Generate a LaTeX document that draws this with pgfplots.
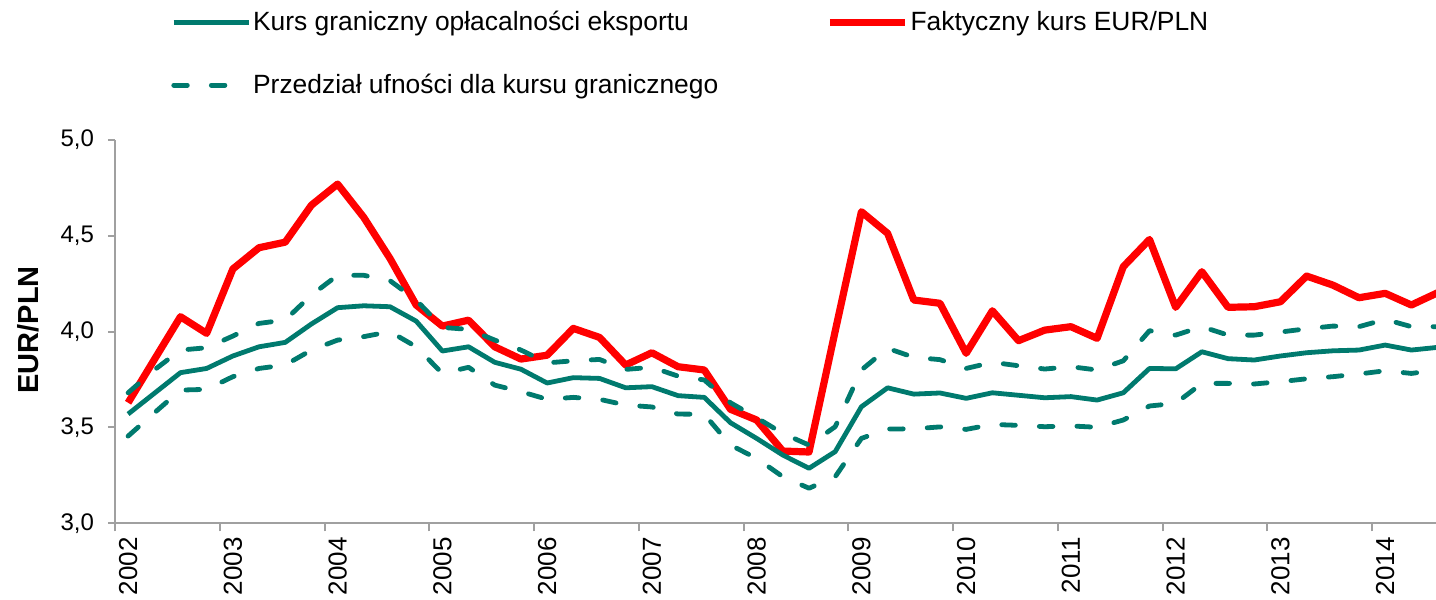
\documentclass[border=0pt]{standalone}
\usepackage{fontspec}
\setmainfont{Liberation Sans}
\usepackage{pgfplots}
\pgfplotsset{compat=1.18}
\usepackage{pgfplotstable}
\definecolor{kgreen}{RGB}{0,122,110}
\definecolor{kred}{RGB}{255,0,0}
\definecolor{axgray}{RGB}{160,160,160}

\pgfplotstableread{
i g r u l
0 3.570 3.629 3.681 3.455
1 3.678 3.854 3.800 3.576
2 3.786 4.078 3.904 3.695
3 3.808 3.991 3.916 3.699
4 3.873 4.327 3.977 3.765
5 3.921 4.438 4.043 3.808
6 3.944 4.467 4.061 3.826
7 4.040 4.660 4.191 3.904
8 4.125 4.770 4.294 3.956
9 4.135 4.596 4.294 3.974
10 4.130 4.382 4.266 4.000
11 4.055 4.139 4.165 3.921
12 3.899 4.029 4.022 3.782
13 3.921 4.060 4.012 3.814
14 3.840 3.921 3.956 3.721
15 3.804 3.857 3.904 3.687
16 3.732 3.877 3.837 3.647
17 3.760 4.017 3.848 3.657
18 3.756 3.970 3.855 3.647
19 3.707 3.826 3.803 3.617
20 3.713 3.890 3.814 3.607
21 3.666 3.817 3.768 3.570
22 3.657 3.800 3.748 3.569
23 3.525 3.595 3.629 3.408
24 3.443 3.539 3.551 3.339
25 3.356 3.377 3.469 3.243
26 3.287 3.372 3.408 3.183
27 3.374 4.003 3.504 3.243
28 3.608 4.626 3.800 3.443
29 3.707 4.513 3.913 3.492
30 3.674 4.165 3.866 3.493
31 3.680 4.148 3.854 3.503
32 3.652 3.887 3.808 3.490
33 3.681 4.109 3.840 3.516
34 3.668 3.953 3.822 3.511
35 3.655 4.008 3.805 3.504
36 3.661 4.026 3.817 3.508
37 3.643 3.965 3.800 3.501
38 3.681 4.339 3.848 3.539
39 3.808 4.481 4.005 3.612
40 3.806 4.127 3.982 3.626
41 3.895 4.313 4.026 3.730
42 3.859 4.127 3.982 3.730
43 3.852 4.130 3.982 3.727
44 3.873 4.156 3.998 3.739
45 3.890 4.290 4.015 3.754
46 3.900 4.243 4.029 3.765
47 3.904 4.177 4.026 3.779
48 3.930 4.200 4.064 3.796
49 3.904 4.139 4.026 3.782
50 3.918 4.203 4.026 3.800
}\data

\begin{document}
\begin{tikzpicture}
\begin{axis}[
  scale only axis,
  width=660.5pt, height=191.65pt,
  xmin=-0.5, xmax=49.94, ymin=3, ymax=5,
  axis lines*=left,
  axis line style={draw=axgray, line width=1pt},
  tick align=outside,
  ytick={3,3.5,4,4.5,5},
  yticklabel style={/pgf/number format/.cd, fixed, fixed zerofill, precision=1, use comma, /tikz/.cd, font=\fontsize{12}{14}\selectfont, xshift=-3.5pt},
  /pgf/number format/assume math mode=true,
  major tick length=3.5pt,
  minor tick length=4pt,
  every tick/.style={draw=axgray, line width=1pt},
  xtick={0,4,...,48},
  xticklabels={2002,2003,2004,2005,2006,2007,2008,2009,2010,2011,2012,2013,2014},
  major x tick style={draw=none},
  minor xtick={-0.5,3.5,...,47.5},
  xticklabel style={rotate=90, anchor=east, font=\fontsize{13}{15}\selectfont},
  ylabel={\textbf{EUR/PLN}},
  ylabel style={at={(axis description cs:-0.0659,0.505)}, anchor=center, font=\fontsize{14.5}{17}\selectfont},
  legend columns=2,
  legend cell align=left,
  legend image code/.code={\draw[#1] (0pt,0pt) -- (37.5pt,0pt);},
  legend style={at={(axis description cs:0.0378,1.352)}, anchor=north west, draw=none, fill=none,
    font=\fontsize{13.2}{15}\selectfont, nodes={inner sep=1pt},
    /tikz/every even column/.append style={column sep=53pt}, row sep=18pt},
  line join=round,
]
\addlegendimage{kgreen, line width=2.4pt}
\addlegendentry{Kurs graniczny opłacalności eksportu}
\addlegendimage{kred, line width=3.6pt}
\addlegendentry{Faktyczny kurs EUR/PLN}
\addlegendimage{kgreen, line width=2.4pt, line cap=round, dash pattern=on 6.8pt off 12pt}
\addlegendentry{Przedział ufności dla kursu granicznego}

\addplot[kred, line width=3.6pt, forget plot] table[x=i, y=r] {\data};
\addplot[kgreen, line width=2.4pt, forget plot] table[x=i, y=g] {\data};
\addplot[kgreen, line width=2.4pt, line cap=round, dash pattern=on 6.8pt off 12pt, forget plot] table[x=i, y=u] {\data};
\addplot[kgreen, line width=2.4pt, line cap=round, dash pattern=on 6.8pt off 12pt, forget plot] table[x=i, y=l] {\data};
\end{axis}
\pgfresetboundingbox
\path (-57.5pt,-38.35pt) rectangle (660.5pt,261.65pt);
\end{tikzpicture}
\end{document}
